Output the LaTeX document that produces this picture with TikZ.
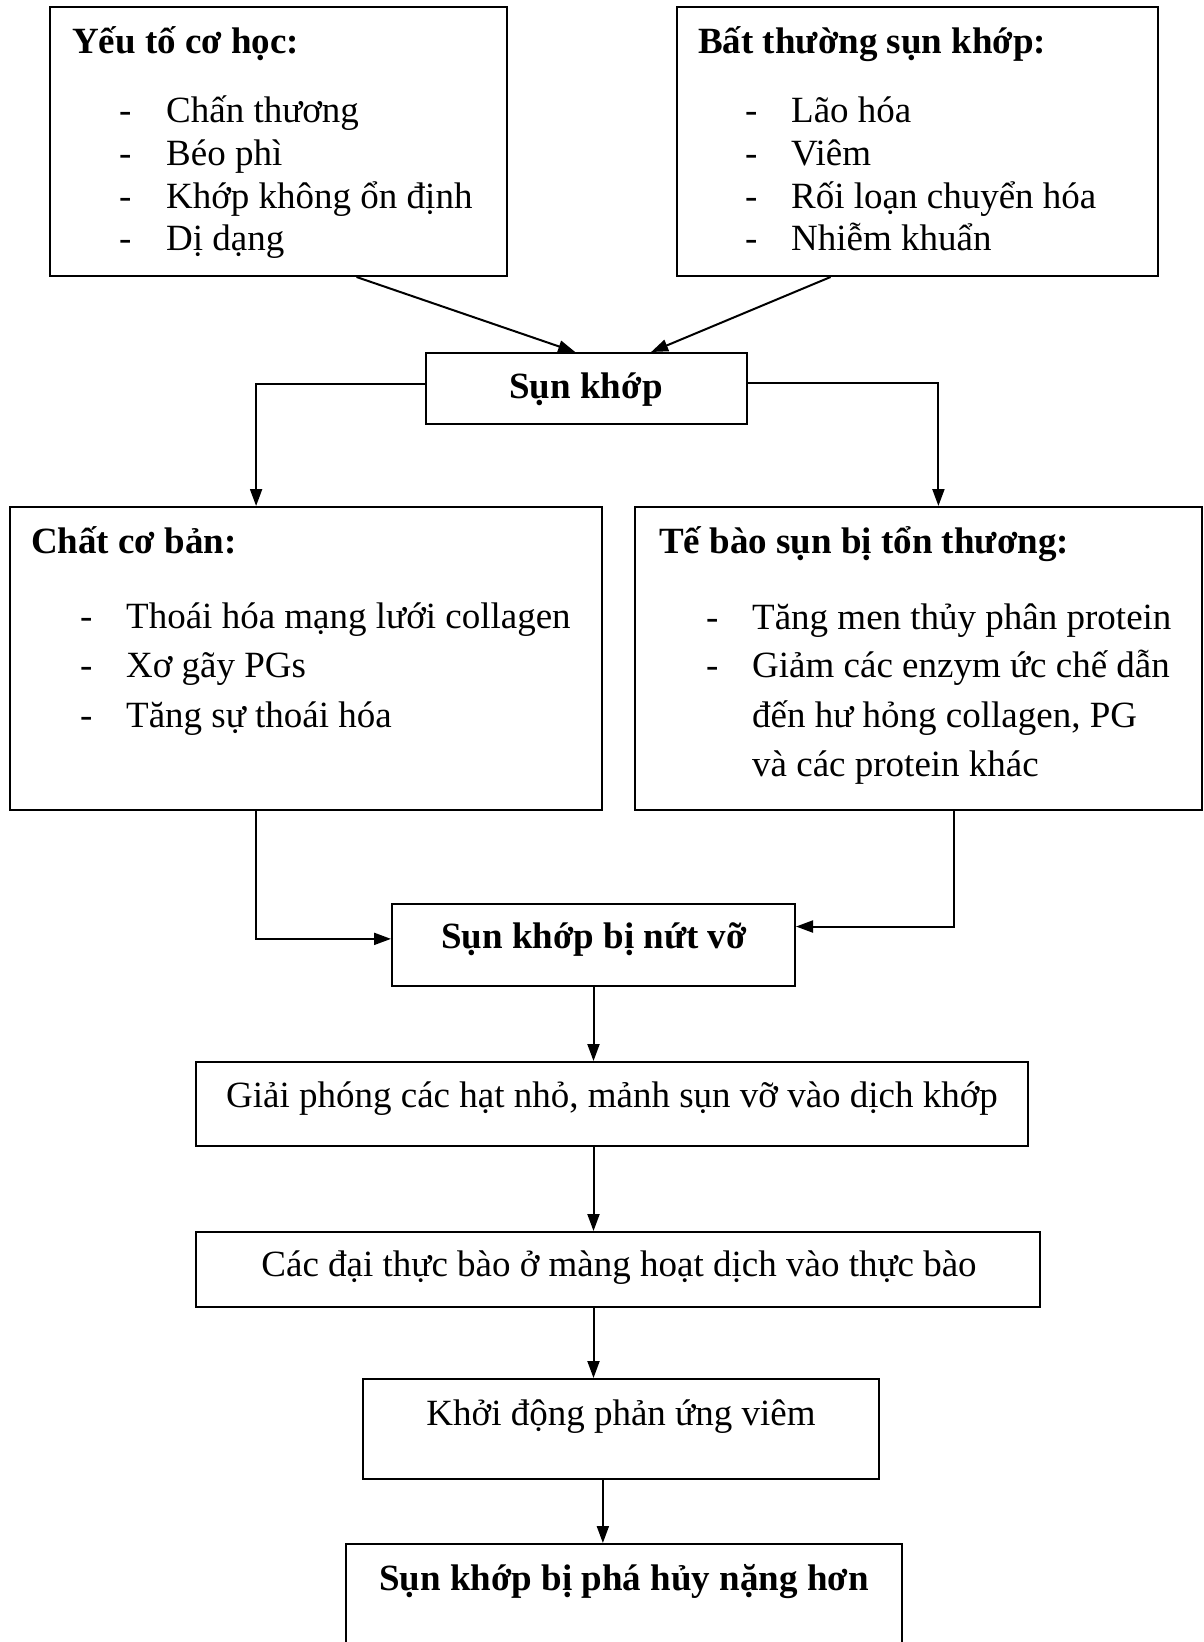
\documentclass[tikz,border=0pt]{standalone}
\usepackage{fontspec}
\setmainfont{Liberation Serif}
\usetikzlibrary{arrows.meta,calc}
\tikzset{
  box/.style={draw, rectangle, line width=2pt, inner sep=0pt},
  txt/.style={anchor=base west, inner sep=0pt},
  ctxt/.style={anchor=base, inner sep=0pt},
  ttl/.style={anchor=base west, inner sep=0pt, font=\fontsize{37}{45}\selectfont\bfseries},
  arr/.style={-{Triangle[length=17pt,width=12pt]}, line width=2pt},
}
\begin{document}
\begin{tikzpicture}[x=1pt,y=-1pt,font=\fontsize{37}{45}\selectfont]
\path[use as bounding box, fill=white] (0,0) rectangle (1204,1642);
\clip (0,0) rectangle (1204,1642);

% boxes
\node[box, minimum width=457, minimum height=269] (b1) at (278.5,141.5) {};
\node[box, minimum width=481, minimum height=269] (b2) at (917.5,141.5) {};
\node[box, minimum width=321, minimum height=71] (sk) at (586.5,388.5) {};
\node[box, minimum width=592, minimum height=303] (cb) at (306,658.5) {};
\node[box, minimum width=567, minimum height=303] (tb) at (918.5,658.5) {};
\node[box, minimum width=403, minimum height=82] (nv) at (593.5,945) {};
\node[box, minimum width=832, minimum height=84] (gp) at (612,1104) {};
\node[box, minimum width=844, minimum height=75] (dt) at (618,1269.5) {};
\node[box, minimum width=516, minimum height=100] (kd) at (621,1429) {};
\node[box, minimum width=556, minimum height=136] (ph) at (624,1612) {};

% box 1 text
\node[ttl] (t1) at (72,53) {Yếu tố cơ học:};
\node[txt] (d11) at (119,122) {-};
\node[txt] (i11) at (166,122) {Chấn thương};
\node[txt] (d12) at (119,165) {-};
\node[txt] (i12) at (166,165) {Béo phì};
\node[txt] (d13) at (119,208) {-};
\node[txt] (i13) at (166,208) {Khớp không ổn định};
\node[txt] (d14) at (119,250) {-};
\node[txt] (i14) at (166,250) {Dị dạng};

% box 2 text
\node[ttl] (t2) at (698,53) {Bất thường sụn khớp:};
\node[txt] (d21) at (745,122) {-};
\node[txt] (i21) at (791,122) {Lão hóa};
\node[txt] (d22) at (745,165) {-};
\node[txt] (i22) at (791,165) {Viêm};
\node[txt] (d23) at (745,208) {-};
\node[txt] (i23) at (791,208) {Rối loạn chuyển hóa};
\node[txt] (d24) at (745,250) {-};
\node[txt] (i24) at (791,250) {Nhiễm khuẩn};

% sun khop
\node[ctxt, font=\fontsize{37}{45}\selectfont\bfseries] (tsk) at (586,398) {Sụn khớp};

% chat co ban
\node[ttl] (t3) at (31,553) {Chất cơ bản:};
\node[txt] (d31) at (80,628) {-};
\node[txt] (i31) at (126,628) {Thoái hóa mạng lưới collagen};
\node[txt] (d32) at (80,677) {-};
\node[txt] (i32) at (126,677) {Xơ gãy PGs};
\node[txt] (d33) at (80,727) {-};
\node[txt] (i33) at (126,727) {Tăng sự thoái hóa};

% te bao
\node[ttl] (t4) at (659,553) {Tế bào sụn bị tổn thương:};
\node[txt] (d41) at (706,629) {-};
\node[txt] (i41) at (752,629) {Tăng men thủy phân protein};
\node[txt] (d42) at (706,677) {-};
\node[txt] (i42) at (752,677) {Giảm các enzym ức chế dẫn};
\node[txt] (i43) at (752,727) {đến hư hỏng collagen, PG};
\node[txt] (i44) at (752,776) {và các protein khác};

% lower texts
\node[ctxt, font=\fontsize{37}{45}\selectfont\bfseries] (tnv) at (594,948) {Sụn khớp bị nứt vỡ};
\node[ctxt] (tgp) at (612,1107) {Giải phóng các hạt nhỏ, mảnh sụn vỡ vào dịch khớp};
\node[ctxt] (tdt) at (619,1276) {Các đại thực bào ở màng hoạt dịch vào thực bào};
\node[ctxt] (tkd) at (621,1425) {Khởi động phản ứng viêm};
\node[ctxt, font=\fontsize{37}{45}\selectfont\bfseries] (tph) at (624,1590) {Sụn khớp bị phá hủy nặng hơn};

% connectors
\coordinate (kdo) at ($(kd.south west)!0.465!(kd.south east)$);
\draw[arr] ($(b1.south west)!0.67!(b1.south east)$) -- ($(sk.north west)!0.465!(sk.north east)$);
\draw[arr] ($(b2.south west)!0.32!(b2.south east)$) -- ($(sk.north west)!0.70!(sk.north east)$);
\draw[arr] ($(sk.north west)!0.44!(sk.south west)$) -| ($(cb.north west)!0.416!(cb.north east)$);
\draw[arr] ($(sk.north east)!0.42!(sk.south east)$) -| ($(tb.north west)!0.535!(tb.north east)$);
\draw[arr] ($(cb.south west)!0.416!(cb.south east)$) |- ($(nv.north west)!0.427!(nv.south west)$);
\draw[arr] ($(tb.south west)!0.562!(tb.south east)$) |- ($(nv.north east)!0.28!(nv.south east)$);
\draw[arr] (nv.south) -- (nv.south |- gp.north);
\draw[arr] (gp.south -| nv.south) -- (nv.south |- dt.north);
\draw[arr] (dt.south -| nv.south) -- (nv.south |- kd.north);
\draw[arr] (kdo) -- (kdo |- ph.north);
\end{tikzpicture}
\end{document}
